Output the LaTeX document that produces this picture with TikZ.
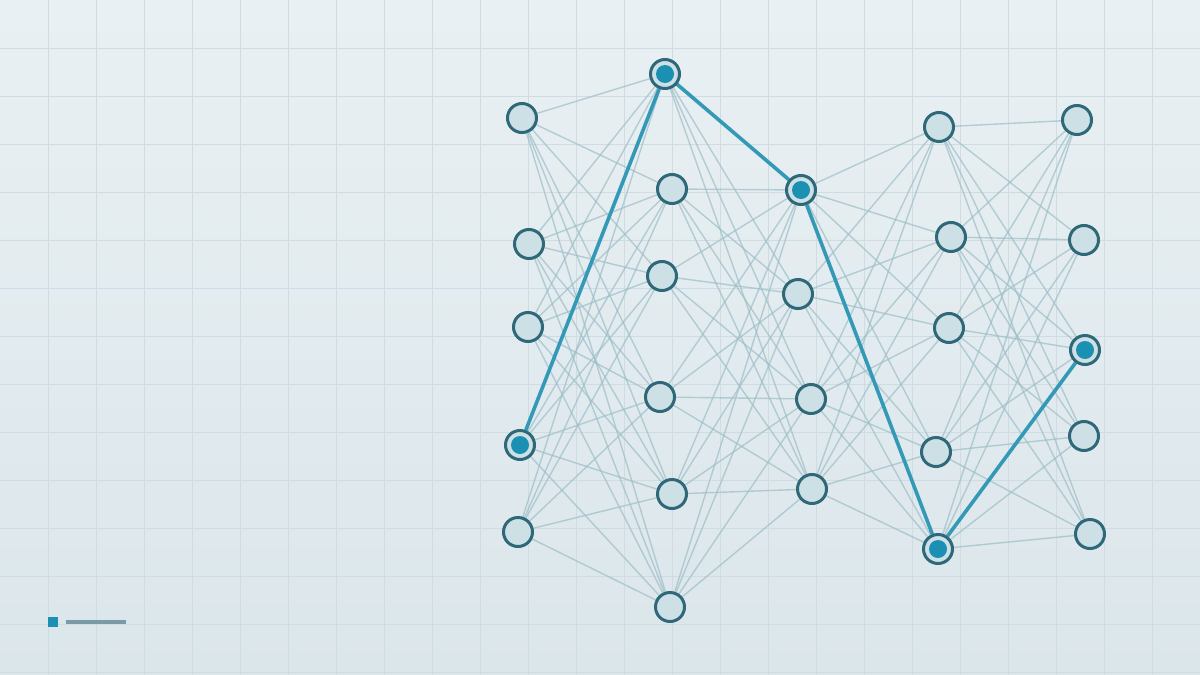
\documentclass[tikz,border=0pt]{standalone}
\usepackage{tikz}
\usetikzlibrary{calc}
\definecolor{bgtop}{HTML}{E9F0F3}
\definecolor{bgbot}{HTML}{DBE6EB}
\definecolor{gridc}{HTML}{CFDDE3}
\definecolor{nodefill}{HTML}{CCE0E6}
\definecolor{nodeline}{HTML}{2F6878}
\definecolor{dotc}{HTML}{1C90B2}
\definecolor{hot}{HTML}{3399B7}
\definecolor{wire}{HTML}{9DBEC7}
\definecolor{legline}{HTML}{7A9AA5}
\pgfdeclarelayer{back}
\pgfdeclarelayer{wires}
\pgfsetlayers{back,wires,main}

\begin{document}
\begin{tikzpicture}[x=1pt,y=-1pt]
            \tikzstyle{neuron}=[circle, draw=nodeline, fill=nodefill, line width=3pt, minimum size=29pt, inner sep=0pt]
            \tikzstyle{fired}=[neuron, path picture={\fill[dotc] (path picture bounding box.center) circle (9pt);}]
            \tikzstyle{wireline}=[wire, line width=1.4pt, opacity=0.7]
            \tikzstyle{hotline}=[hot, line width=3.6pt]
            \useasboundingbox (0,0) rectangle (1200,675);
            \begin{pgfonlayer}{back}
            \shade[top color=bgtop, bottom color=bgbot] (0,0) rectangle (1200,675);
            \foreach \gx in {48,96,...,1152} \draw[gridc, line width=1pt] (\gx,0) -- (\gx,675);
            \foreach \gy in {48,96,...,672} \draw[gridc, line width=1pt] (0,\gy) -- (1200,\gy);
            \end{pgfonlayer}
            % input layer
            \node[neuron] (A1) at (522,118) {};
            \node[neuron] (A2) at (529,244) {};
            \node[neuron] (A3) at (528,327) {};
            \node[fired] (A4) at (520,445) {};
            \node[neuron] (A5) at (518,532) {};
            % hidden 1
            \node[fired] (B1) at (665,74) {};
            \node[neuron] (B2) at (672,189) {};
            \node[neuron] (B3) at (662,276) {};
            \node[neuron] (B4) at (660,397) {};
            \node[neuron] (B5) at (672,494) {};
            \node[neuron] (B6) at (670,607) {};
            % hidden 2
            \node[fired] (C1) at (801,190) {};
            \node[neuron] (C2) at (798,294) {};
            \node[neuron] (C3) at (811,399) {};
            \node[neuron] (C4) at (812,489) {};
            % hidden 3
            \node[neuron] (D1) at (939,127) {};
            \node[neuron] (D2) at (951,237) {};
            \node[neuron] (D3) at (949,328) {};
            \node[neuron] (D4) at (936,452) {};
            \node[fired] (D5) at (938,549) {};
            % output layer
            \node[neuron] (E1) at (1077,120) {};
            \node[neuron] (E2) at (1084,240) {};
            \node[fired] (E3) at (1085,350) {};
            \node[neuron] (E4) at (1084,436) {};
            \node[neuron] (E5) at (1090,534) {};
            \begin{pgfonlayer}{wires}
            \foreach \i in {1,...,5} \foreach \j in {1,...,6} \draw[wireline] (A\i) -- (B\j);
            \foreach \i in {1,...,6} \foreach \j in {1,...,4} \draw[wireline] (B\i) -- (C\j);
            \foreach \i in {1,...,4} \foreach \j in {1,...,5} \draw[wireline] (C\i) -- (D\j);
            \foreach \i in {1,...,5} \foreach \j in {1,...,5} \draw[wireline] (D\i) -- (E\j);
            \draw[hotline] (A4) -- (B1) -- (C1) -- (D5) -- (E3);
            \end{pgfonlayer}
            % legend
            \fill[dotc] (48,617) rectangle (58,627);
            \draw[legline, line width=4pt] (66,622) -- (126,622);
        \end{tikzpicture}
\end{document}
